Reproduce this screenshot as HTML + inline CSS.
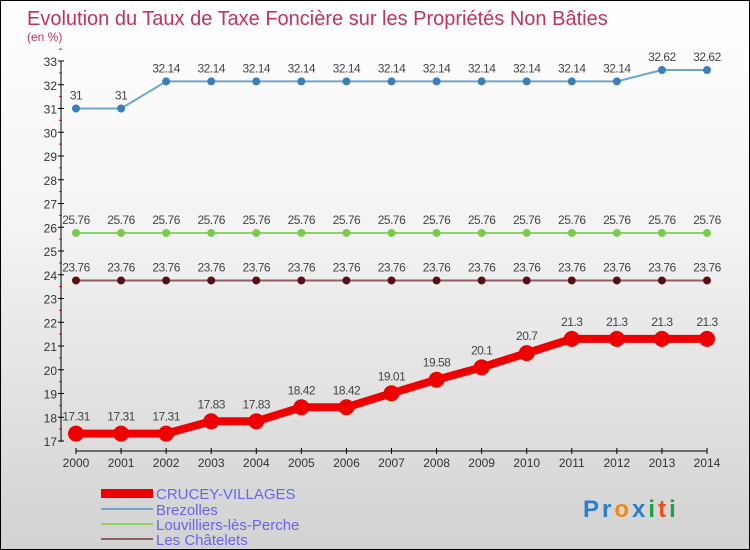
<!DOCTYPE html>
<html><head><meta charset="utf-8"><style>
body{margin:0;}
#c{width:748px;height:548px;border:1px solid #000;background:linear-gradient(#fff 0%,#f4f4f4 40%,#d2d2d2 100%);position:relative;overflow:hidden;font-family:"Liberation Sans",sans-serif;}
</style></head><body>
<div id="c">
<svg id="s" width="748" height="548" xmlns="http://www.w3.org/2000/svg">
<text x="26" y="24" font-size="20" fill="#c0335d">Evolution du Taux de Taxe Foncière sur les Propriétés Non Bâties</text>
<text x="26" y="40" font-size="12" fill="#c0335d">(en %)</text>
<g id="axes"></g><g id="series"></g>
<g>
<rect x="100" y="488" width="52" height="9" fill="#e00"/>
<text x="155" y="498" font-size="15" fill="#6666ee">CRUCEY-VILLAGES</text>
<rect x="100" y="507" width="52" height="2" fill="#6fa5c8"/>
<text x="155" y="514" font-size="15" fill="#6666ee">Brezolles</text>
<rect x="100" y="522" width="52" height="2" fill="#8fd16a"/>
<text x="155" y="529" font-size="15" fill="#6666ee">Louvilliers-lès-Perche</text>
<rect x="100" y="537" width="52" height="2" fill="#906060"/>
<text x="155" y="544" font-size="15" fill="#6666ee">Les Châtelets</text>
</g>
<text x="582" y="516" font-size="24" font-weight="bold" letter-spacing="3"><tspan fill="#2a7fd0">Pr</tspan><tspan fill="#f08a10">o</tspan><tspan fill="#2a7fd0">x</tspan><tspan fill="#20a040">i</tspan><tspan fill="#f05010">t</tspan><tspan fill="#20a040">i</tspan></text>
</svg></div>
<script>
const years=[2000,2001,2002,2003,2004,2005,2006,2007,2008,2009,2010,2011,2012,2013,2014];
const crucey=[17.31,17.31,17.31,17.83,17.83,18.42,18.42,19.01,19.58,20.1,20.7,21.3,21.3,21.3,21.3];
const brezolles=[31,31,32.14,32.14,32.14,32.14,32.14,32.14,32.14,32.14,32.14,32.14,32.14,32.62,32.62];
const louvilliers=[25.76,25.76,25.76,25.76,25.76,25.76,25.76,25.76,25.76,25.76,25.76,25.76,25.76,25.76,25.76];
const chatelets=[23.76,23.76,23.76,23.76,23.76,23.76,23.76,23.76,23.76,23.76,23.76,23.76,23.76,23.76,23.76];
const yTicks=[17,18,19,20,21,22,23,24,25,26,27,28,29,30,31,32,33];
const NS="http://www.w3.org/2000/svg";
const X=i=>75+i*(631/14), Y=v=>60+(33-v)*23.75;
function mk(t,a,p){const e=document.createElementNS(NS,t);for(const k in a)e.setAttribute(k,a[k]);p.appendChild(e);return e;}
const ax=document.getElementById('axes'),se=document.getElementById('series');
let yl=mk('line',{x1:60,y1:60,x2:60,y2:441,stroke:'#000'},ax);

yTicks.forEach(v=>{
 const t=mk('line',{x1:57,y1:Y(v),x2:63,y2:Y(v),stroke:'#000'},ax);
 
 const r=mk('line',{x1:58,y1:Y(v+0.5),x2:61,y2:Y(v+0.5),stroke:'#e00'},ax);
 
 const l=mk('text',{x:56,y:Y(v)+5,'text-anchor':'end','font-size':12,fill:'#333'},ax);l.textContent=v;
 
});
let xl=mk('line',{x1:75,y1:450,x2:706,y2:450,stroke:'#000'},ax);

years.forEach((y,i)=>{
 const t=mk('line',{x1:X(i),y1:447,x2:X(i),y2:453,stroke:'#000'},ax);
 
 const l=mk('text',{x:X(i),y:466,'text-anchor':'middle','font-size':12,fill:'#333'},ax);l.textContent=y;
 
});
function series(d,name,col,dot,w,r,fs){
 const g=mk('g',{},se);
 const p=mk('polyline',{points:d.map((v,i)=>X(i)+','+Y(v)).join(' '),fill:'none',stroke:col,'stroke-width':w,'stroke-linejoin':'round'},g);
 
 d.forEach((v,i)=>{
  const c=mk('circle',{cx:X(i),cy:Y(v),r:r,fill:dot},g);
  
  const t=mk('text',{x:X(i),y:Y(v)-9-(r>5?4:0),'text-anchor':'middle','font-size':fs,fill:'#444','letter-spacing':'-0.5'},g);t.textContent=v;
  
 });
}
series(brezolles,'brezolles','#6fa5c8','#3a80b8',2,4,12);
series(louvilliers,'louvilliers','#8fd16a','#7acb4a',2,4,12);
series(chatelets,'chatelets','#906060','#5a1010',2,4,12);
series(crucey,'crucey','#e00','#e00',8,8,12);
</script>
</body></html>
